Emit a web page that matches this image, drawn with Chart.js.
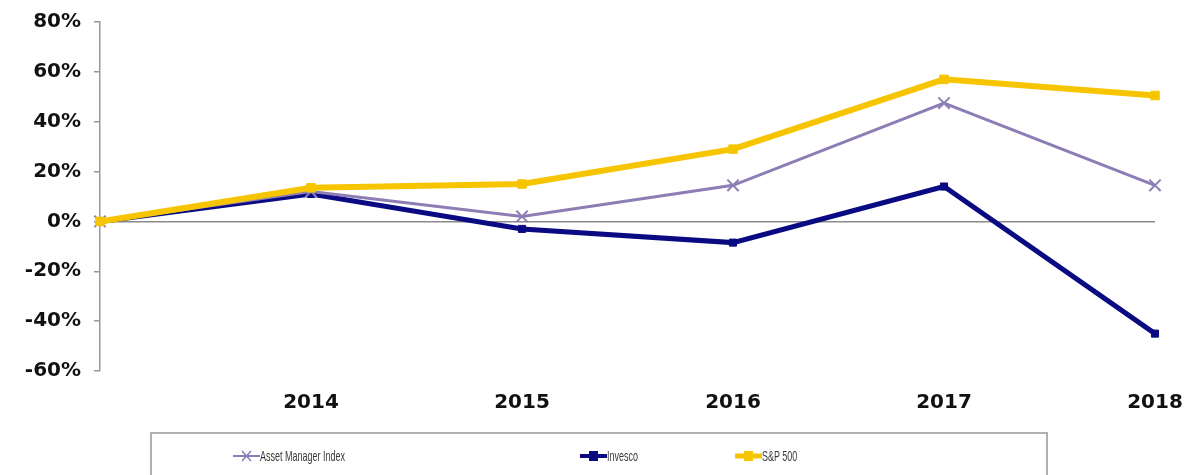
<!DOCTYPE html>
<html>
<head>
<meta charset="utf-8">
<script src="https://cdn.jsdelivr.net/npm/chart.js@4/dist/chart.umd.min.js"></script>
<style>
  html, body { margin: 0; padding: 0; background: #fff; }
  #wrap { position: relative; width: 1186px; height: 475px; overflow: hidden; }
  #legend {
    position: absolute; left: 150px; top: 432px; width: 898px; height: 60px;
    border: 2px solid #b0b0b0; box-sizing: border-box;
  }
  .item { position: absolute; top: 13px; display: flex; align-items: center; white-space: nowrap; }
  .item span { display: inline-block; transform: scaleX(0.6); transform-origin: left center;
    font: 15px "Liberation Sans", Arial, sans-serif; color: #3a3a3a; }
</style>
</head>
<body>
<div id="wrap">
  <canvas id="chart" width="1186" height="475"></canvas>
  <div id="legend"></div>
</div>
<script>
// years on the x axis (first point is the base year, unlabeled)
const years = ["", "2014", "2015", "2016", "2017", "2018"];

// cumulative return, %
const assetManager = [0, 12, 2, 14.5, 47.5, 14.5];
const invesco = [0, 11, -3, -8.5, 14, -45];
const sp500 = [0, 13.5, 15, 29, 57, 50.5];

const seriesNames = ["Asset Manager Index", "Invesco", "S&P 500"];

const purple = "#8d7db5";
const navy = "#0a0a82";
const gold = "#f6c500";

const series = [
  { label: seriesNames[0], data: assetManager, color: purple, width: 3, point: "crossRot", radius: 8, order: 1 },
  { label: seriesNames[1], data: invesco, color: navy, width: 5, point: "rect", radius: 5, order: 2 },
  { label: seriesNames[2], data: sp500, color: gold, width: 6, point: "rect", radius: 6, order: 0 }
];

const chart = new Chart(document.getElementById("chart").getContext("2d"), {
  type: "line",
  data: {
    labels: years,
    datasets: series.map(s => ({
      label: s.label,
      data: s.data,
      borderColor: s.color,
      backgroundColor: s.color,
      borderWidth: s.width,
      pointStyle: s.point,
      pointRadius: s.radius,
      pointBorderWidth: s.point === "crossRot" ? 2 : 1,
      pointBorderColor: s.color,
      pointBackgroundColor: s.color,
      tension: 0,
      order: s.order,
      clip: false
    }))
  },
  options: {
    responsive: false,
    animation: false,
    maintainAspectRatio: false,
    layout: { padding: { top: 22, right: 31, bottom: 63, left: 0 } },
    plugins: {
      legend: { display: false },
      tooltip: { enabled: false }
    },
    scales: {
      x: {
        offset: false,
        grid: { display: false, drawTicks: false },
        border: { display: false },
        ticks: {
          padding: 20,
          color: "#111",
          font: { family: "DejaVu Sans", size: 20, weight: "bold" },
          maxRotation: 0
        },
        afterFit: s => { s.height = 41; s.paddingLeft = 0; s.paddingRight = 0; }
      },
      y: {
        min: -60,
        max: 80,
        grid: {
          color: c => (c.tick && c.tick.value === 0 ? "#8a8a8a" : "rgba(0,0,0,0)"),
          lineWidth: 1.5,
          tickColor: "#999",
          tickLength: 6,
          drawOnChartArea: true
        },
        border: { display: true, color: "#999", width: 1.5 },
        ticks: {
          stepSize: 20,
          padding: 13,
          color: "#111",
          font: { family: "DejaVu Sans", size: 20, weight: "bold" },
          callback: v => v + "%"
        },
        afterFit: s => { s.width = 100; s.paddingTop = 0; s.paddingBottom = 0; }
      }
    }
  }
});

// legend: line sample with marker, like the source
const legend = document.getElementById("legend");
const legendLeft = [81, 428, 583];
series.forEach((s, i) => {
  const item = document.createElement("div");
  item.className = "item";
  item.style.left = legendLeft[i] + "px";
  const c = document.createElement("canvas");
  c.width = 27; c.height = 14;
  const g = c.getContext("2d");
  g.strokeStyle = s.color;
  g.fillStyle = s.color;
  g.lineWidth = s.width - 1;
  g.beginPath(); g.moveTo(0, 7); g.lineTo(27, 7); g.stroke();
  if (s.point === "rect") {
    g.fillRect(9, 2, 9, 10);
  } else {
    g.lineWidth = 1.5;
    g.beginPath(); g.moveTo(9, 2); g.lineTo(18, 12); g.moveTo(18, 2); g.lineTo(9, 12); g.stroke();
  }
  item.appendChild(c);
  const t = document.createElement("span");
  t.textContent = s.label;
  item.appendChild(t);
  legend.appendChild(item);
});
</script>
</body>
</html>
